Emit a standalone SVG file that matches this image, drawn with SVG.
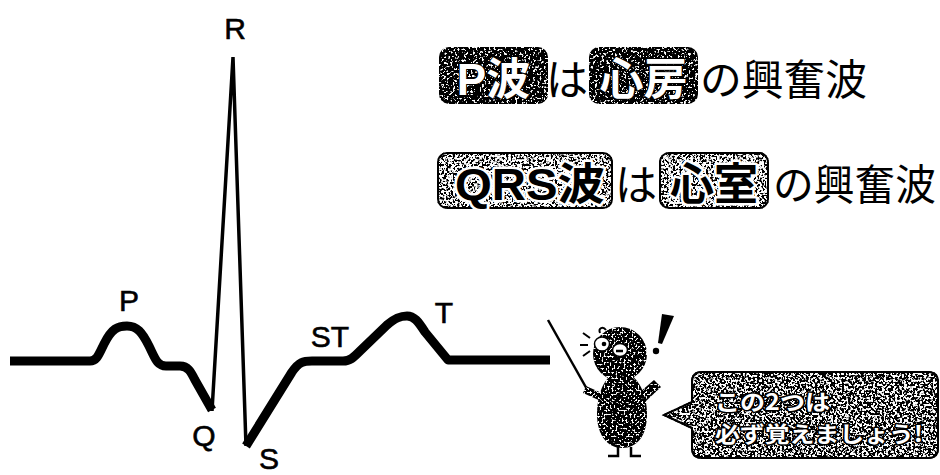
<svg xmlns="http://www.w3.org/2000/svg" width="940" height="475" viewBox="0 0 940 475">
  <style>
    .wave { fill: none; stroke: #000; stroke-width: 9; stroke-linejoin: round; stroke-linecap: butt; }
    .spike { fill: none; stroke: #000; stroke-width: 3.5; stroke-linejoin: miter; }
    .lbl { font-family: "Liberation Sans", Arial, sans-serif; font-size: 30px; fill: #000; stroke: #000; stroke-width: 0.6; text-anchor: middle; }
    .jp { font-family: "Noto Sans CJK JP", "Noto Sans CJK SC", sans-serif; fill: #000; }
    .box { stroke: #000; stroke-width: 2; }
    .tagDark { font-family: "Liberation Sans", "Noto Sans CJK JP", sans-serif; font-weight: bold; font-size: 44px; fill: #fff; stroke: #000; stroke-width: 2; paint-order: stroke; text-anchor: middle; }
    .tagLight { font-family: "Liberation Sans", "Noto Sans CJK JP", sans-serif; font-weight: bold; font-size: 44px; fill: #000; stroke: #fff; stroke-width: 5; paint-order: stroke; stroke-linejoin: round; text-anchor: middle; }
    .say { font-family: "Noto Sans CJK JP", sans-serif; font-weight: bold; font-size: 22px; fill: #fff; stroke: #000; stroke-width: 3; paint-order: stroke; stroke-linejoin: round; }
  </style>
  <defs>
    <!-- white shape sprinkled with black specks -->
    <filter id="grainMid" x="-5%" y="-5%" width="110%" height="110%">
      <feTurbulence type="fractalNoise" baseFrequency="0.45" numOctaves="2" seed="4" result="noise"/>
      <feColorMatrix in="noise" type="matrix" values="0 0 0 0 0  0 0 0 0 0  0 0 0 0 0  -1 0 0 0 1" result="inv"/>
      <feComponentTransfer in="inv" result="dots"><feFuncA type="linear" slope="12" intercept="-5.6"/></feComponentTransfer>
      <feComposite in="dots" in2="SourceAlpha" operator="in" result="clip"/>
      <feMerge><feMergeNode in="SourceGraphic"/><feMergeNode in="clip"/></feMerge>
    </filter>
    <!-- denser black specks for the speech bubble -->
    <filter id="grainBubble" x="-5%" y="-5%" width="110%" height="110%">
      <feTurbulence type="fractalNoise" baseFrequency="0.45" numOctaves="2" seed="6" result="noise"/>
      <feColorMatrix in="noise" type="matrix" values="0 0 0 0 0  0 0 0 0 0  0 0 0 0 0  -1 0 0 0 1" result="inv"/>
      <feComponentTransfer in="inv" result="dots"><feFuncA type="linear" slope="12" intercept="-5.1"/></feComponentTransfer>
      <feComposite in="dots" in2="SourceAlpha" operator="in" result="clip"/>
      <feMerge><feMergeNode in="SourceGraphic"/><feMergeNode in="clip"/></feMerge>
    </filter>
    <!-- black shape sprinkled with sparse white specks -->
    <filter id="grainDark" x="-5%" y="-5%" width="110%" height="110%">
      <feTurbulence type="fractalNoise" baseFrequency="0.45" numOctaves="2" seed="9" result="noise"/>
      <feColorMatrix in="noise" type="matrix" values="0 0 0 0 1  0 0 0 0 1  0 0 0 0 1  1 0 0 0 0" result="w"/>
      <feComponentTransfer in="w" result="dots"><feFuncA type="linear" slope="12" intercept="-7.0"/></feComponentTransfer>
      <feComposite in="dots" in2="SourceAlpha" operator="in" result="clip"/>
      <feMerge><feMergeNode in="SourceGraphic"/><feMergeNode in="clip"/></feMerge>
    </filter>
    <!-- mascot body texture -->
    <filter id="grainBody" x="-5%" y="-5%" width="110%" height="110%">
      <feTurbulence type="fractalNoise" baseFrequency="0.5" numOctaves="2" seed="2" result="noise"/>
      <feColorMatrix in="noise" type="matrix" values="0 0 0 0 1  0 0 0 0 1  0 0 0 0 1  1 0 0 0 0" result="w"/>
      <feComponentTransfer in="w" result="dots"><feFuncA type="linear" slope="12" intercept="-6.7"/></feComponentTransfer>
      <feComposite in="dots" in2="SourceAlpha" operator="in" result="clip"/>
      <feMerge><feMergeNode in="SourceGraphic"/><feMergeNode in="clip"/></feMerge>
    </filter>
  </defs>

  <rect width="940" height="475" fill="#fff"/>

  <!-- ECG trace -->
  <g id="ecg">
    <path class="wave" d="M10,361 H90 C97,361 99,354 104,344 C112,328 118,326 127,326 C137,326 142,332 149,346 C155,358 157,366 166,366 H180 C188,366 191,372 195,380 L212,410"/>
    <path class="spike" d="M212,411 L233,57 L246,446"/>
    <path class="wave" d="M246,446 L292,372 C299,362 303,361 312,361 H343 C350,361 353,358 360,351 L387,325 C395,318 400,316 407,316 C414,316 418,321 425,332 L448,360 H550"/>
  </g>

  <!-- wave labels -->
  <g id="labels">
    <text class="lbl" x="235" y="39">R</text>
    <text class="lbl" x="129" y="311">P</text>
    <text class="lbl" x="204" y="446">Q</text>
    <text class="lbl" x="269" y="469">S</text>
    <text class="lbl" x="330" y="347">ST</text>
    <text class="lbl" x="444" y="323">T</text>
  </g>

  <!-- P wave line -->
  <g id="line-p">
    <rect class="box" x="440" y="48" width="107" height="55" rx="9" fill="#000" filter="url(#grainDark)"/>
    <text class="tagDark" x="493.5" y="95">P<tspan font-family="Noto Sans CJK JP, sans-serif">波</tspan></text>
    <text class="jp" x="567" y="95" font-size="42" text-anchor="middle">は</text>
    <rect class="box" x="590" y="48" width="107" height="55" rx="9" fill="#000" filter="url(#grainDark)"/>
    <text class="tagDark" x="643.5" y="95" font-family="Noto Sans CJK JP, sans-serif">心房</text>
    <text class="jp" x="700" y="95" font-size="42" textLength="167" lengthAdjust="spacingAndGlyphs">の興奮波</text>
  </g>

  <!-- QRS wave line -->
  <g id="line-qrs">
    <rect class="box" x="438" y="153" width="174" height="55" rx="9" fill="#fff" filter="url(#grainMid)"/>
    <text class="tagLight" x="530" y="200" textLength="150" lengthAdjust="spacingAndGlyphs">QRS<tspan font-family="Noto Sans CJK JP, sans-serif">波</tspan></text>
    <text class="jp" x="636" y="200" font-size="42" text-anchor="middle">は</text>
    <rect class="box" x="660" y="153" width="108" height="55" rx="9" fill="#fff" filter="url(#grainMid)"/>
    <text class="tagLight" x="714" y="200" font-family="Noto Sans CJK JP, sans-serif">心室</text>
    <text class="jp" x="773" y="200" font-size="42" textLength="163" lengthAdjust="spacingAndGlyphs">の興奮波</text>
  </g>

  <!-- mascot with pointer -->
  <g id="mascot">
    <line x1="548" y1="320" x2="588" y2="391" stroke="#000" stroke-width="2.5"/>
    <g filter="url(#grainBody)">
      <path d="M621,372 C606,372 597,392 597,414 C597,436 608,448 622,448 C637,448 647,436 647,414 C647,392 636,372 621,372 Z" fill="#000"/>
      <circle cx="620" cy="354" r="27" fill="#000"/>
      <path d="M604,394 L586,386 L583,393 L603,402 Z" fill="#000"/>
      <path d="M640,392 L654,380 L661,387 L645,402 Z" fill="#000"/>
    </g>
    <ellipse cx="602" cy="344" rx="7.5" ry="7" fill="#fff" stroke="#000" stroke-width="1.5"/>
    <ellipse cx="620" cy="350" rx="7.5" ry="6.5" fill="#fff" stroke="#000" stroke-width="1.5"/>
    <circle cx="604" cy="344" r="2.3" fill="#000"/>
    <path d="M616,351 H623" stroke="#000" stroke-width="2.5"/>
    <path d="M590,338 L583,333 M588,345 L580,345 M590,351 L583,356 M600,333 C598,328 603,326 606,330" fill="none" stroke="#000" stroke-width="2"/>
    <path d="M618,447 V456 H608 M631,447 V456 H641" fill="none" stroke="#000" stroke-width="2.5"/>
    <path d="M662,314 L674,316 L662,344 L658,343 Z" fill="#000"/>
    <circle cx="656" cy="351" r="3.2" fill="#000"/>
  </g>

  <!-- speech bubble -->
  <g id="bubble">
    <path class="box" d="M702,372 H928 Q938,372 938,382 V448 Q938,458 928,458 H702 Q692,458 692,448 V428 L664,415 L692,402 V382 Q692,372 702,372 Z" fill="#fff" filter="url(#grainBubble)"/>
    <text class="say" x="715" y="410" textLength="115" lengthAdjust="spacingAndGlyphs">この2つは</text>
    <text class="say" x="715" y="442" textLength="208" lengthAdjust="spacingAndGlyphs">必ず覚えましょう!</text>
  </g>
</svg>
